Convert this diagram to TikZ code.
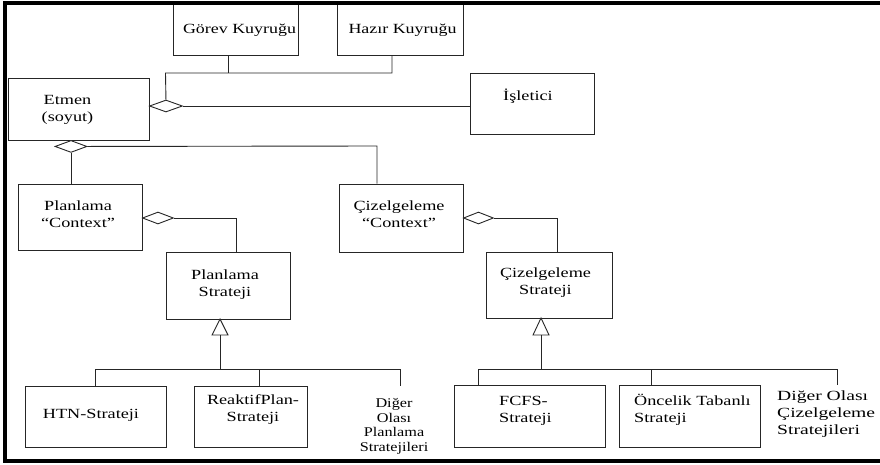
\documentclass[tikz,border=0pt]{standalone}
\usepackage{fontspec}
\setmainfont{Liberation Serif}
\usepackage{graphicx}
\usetikzlibrary{shapes.geometric}

% horizontally widened multi-line labels
\newcommand\wide[2][1.3]{\scalebox{#1}[1]{\begin{tabular}{@{}c@{}}#2\end{tabular}}}
\newcommand\wideL[2][1.3]{\scalebox{#1}[1]{\begin{tabular}{@{}l@{}}#2\end{tabular}}}

\begin{document}
\begin{tikzpicture}[x=1pt,y=-1pt,
  box/.style={draw=black!85, line width=0.9pt, inner sep=0pt, rectangle},
  txt/.style={inner sep=0pt, font=\fontsize{14}{17}\selectfont},
  link/.style={draw=black!85, line width=0.9pt},
  agg/.style={diamond, draw=black!85, line width=0.9pt, fill=white, inner sep=0pt,
              minimum width=32pt, minimum height=12pt},
  gen/.style={draw=black!85, line width=0.9pt, fill=white},
  frameline/.style={draw=black, line width=4pt}]

\useasboundingbox (0,0) rectangle (880,464);

% classes
\node[box, minimum width=125pt, minimum height=51pt] (gorev)    at (235.5,29.5) {};
\node[box, minimum width=126pt, minimum height=51pt] (hazir)    at (400,29.5) {};
\node[box, minimum width=141pt, minimum height=62pt] (etmen)    at (78.5,109) {};
\node[box, minimum width=124pt, minimum height=61pt] (isletici) at (532,103.5) {};
\node[box, minimum width=124pt, minimum height=66pt] (planctx)  at (80,217) {};
\node[box, minimum width=124pt, minimum height=68pt] (cizctx)   at (401,218) {};
\node[box, minimum width=124pt, minimum height=67pt] (planstr)  at (228,285.5) {};
\node[box, minimum width=126pt, minimum height=66pt] (cizstr)   at (549,285) {};
\node[box, minimum width=141pt, minimum height=61pt] (htn)      at (95.5,416.5) {};
\node[box, minimum width=113pt, minimum height=61pt] (reaktif)  at (250.5,416.5) {};
\node[box, minimum width=151pt, minimum height=62pt] (fcfs)     at (529.5,416) {};
\node[box, minimum width=141pt, minimum height=62pt] (oncelik)  at (689.5,416) {};

% labels
\node[txt] (gorev-t)    at (239.5,30)  {\wide[1.28]{Görev Kuyruğu}};
\node[txt] (hazir-t)    at (402.5,30)  {\wide[1.28]{Hazır Kuyruğu}};
\node[txt] (etmen-t)    at (67.5,110)  {\wide{Etmen\\(soyut)}};
\node[txt] (isletici-t) at (528,97)    {\wide{İşletici}};
\node[txt] (planctx-t)  at (78,216)    {\wide{Planlama\\“Context”}};
\node[txt] (cizctx-t)   at (399,216)   {\wide{Çizelgeleme\\“Context”}};
\node[txt] (planstr-t)  at (225,284.5) {\wide{Planlama\\Strateji}};
\node[txt] (cizstr-t)   at (545.5,283) {\wide{Çizelgeleme\\Strateji}};
\node[txt] (htn-t)      at (91,415)    {\wide{HTN-Strateji}};
\node[txt] (reaktif-t)  at (253,410)   {\wide{ReaktifPlan-\\Strateji}};
\node[txt, anchor=west] (fcfs-t)    at (499,411) {\wideL{FCFS-\\Strateji}};
\node[txt, anchor=west] (oncelik-t) at (634,411) {\wideL{Öncelik Tabanlı\\Strateji}};
\node[txt, font=\fontsize{13.3}{14.8}\selectfont] (digerp-t) at (394,426.5)
  {\wide[1.22]{Diğer\\Olası\\Planlama\\Stratejileri}};
\node[txt, anchor=west] (digerc-t) at (777,414) {\wideL[1.4]{Diğer Olası\\Çizelgeleme\\Stratejileri}};

% aggregations
\node[agg, anchor=west, minimum width=33pt]  (d1) at (149,106) {};
\node[agg, anchor=north, minimum width=32pt] (d2) at (71,140) {};
\node[agg, anchor=west, minimum width=31pt]  (d3) at (142,218) {};
\node[agg, anchor=west, minimum width=30pt]  (d4) at (463,218) {};

\coordinate (j1) at (165.5,73);
\coordinate (j2) at (228,73);
\coordinate (j3) at (392,73);
\draw[link] (d1.north) -- (j1) -- (j3) -- (hazir.south -| j3);
\draw[link] (gorev.south -| j2) -- (j2);
\draw[link] (d1.east) -- (isletici.west |- d1.east);

\coordinate (j4) at (377,146);
\draw[link] (d2.east) -- (j4) -- (cizctx.north -| j4);
\draw[link] (d2.south) -- (planctx.north -| d2.south);

\coordinate (j5) at (236,218);
\draw[link] (d3.east) -- (j5) -- (planstr.north -| j5);
\coordinate (j6) at (557,218);
\draw[link] (d4.east) -- (j6) -- (cizstr.north -| j6);

% generalisation: planning strategies
\coordinate (a1) at (220,319);
\coordinate (b1) at (220,335);
\coordinate (h1) at (220,369);
\coordinate (hl1) at (95,369);
\coordinate (hm1) at (259,369);
\coordinate (hr1) at (400,369);
\coordinate (e1) at (400,386);
\draw[gen] (a1) -- ++(-8,16) -- ++(16,0) -- cycle;
\draw[link] (b1) -- (h1);
\draw[link] (hl1) -- (hr1);
\draw[link] (hl1) -- (htn.north -| hl1);
\draw[link] (hm1) -- (reaktif.north -| hm1);
\draw[link] (hr1) -- (e1);

% generalisation: scheduling strategies
\coordinate (a2) at (541,318);
\coordinate (b2) at (541,335);
\coordinate (h2) at (541,369);
\coordinate (hl2) at (478,369);
\coordinate (hm2) at (651,369);
\coordinate (hr2) at (837,369);
\coordinate (e2) at (837,385);
\draw[gen] (a2) -- ++(-8,17) -- ++(16,0) -- cycle;
\draw[link] (b2) -- (h2);
\draw[link] (hl2) -- (hr2);
\draw[link] (hl2) -- (fcfs.north -| hl2);
\draw[link] (hm2) -- (oncelik.north -| hm2);
\draw[link] (hr2) -- (e2);

% outer frame
\coordinate (fa) at (880,3);
\coordinate (fb) at (4.5,3);
\coordinate (fc) at (4.5,461);
\coordinate (fd) at (880,461);
\draw[frameline] (fa) -- (fb) -- (fc) -- (fd);
\end{tikzpicture}
\end{document}
